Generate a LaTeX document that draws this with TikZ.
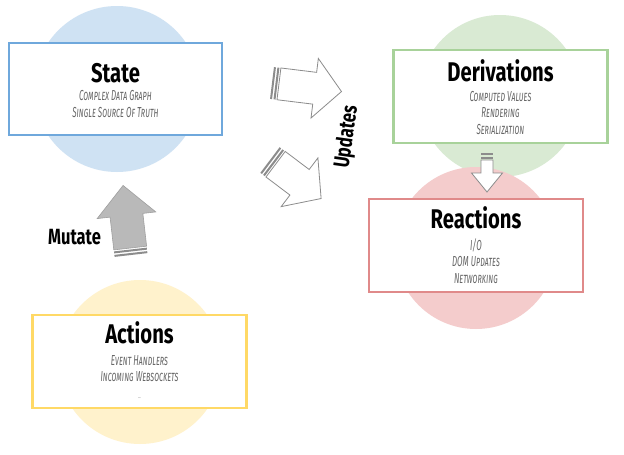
\documentclass[tikz,border=0pt]{standalone}
\usepackage{fontspec}
\usepackage{tikz}
\usetikzlibrary{
calc,
positioning
}
\newfontfamily\headfont[FakeStretch=0.75]{Fira Sans}
\newfontfamily\notefont[FakeStretch=0.55,Letters=SmallCaps]{Fira Sans}
\definecolor{stateline}{HTML}{6FA8DC}
\definecolor{stateblob}{HTML}{CFE2F3}
\definecolor{derivline}{HTML}{A8D29A}
\definecolor{derivblob}{HTML}{D9EAD3}
\definecolor{reactline}{HTML}{E08A8A}
\definecolor{reactblob}{HTML}{F4CCCC}
\definecolor{actline}{HTML}{FFD966}
\definecolor{actblob}{HTML}{FFF2CC}
\definecolor{notegray}{HTML}{666666}
\definecolor{arrowgray}{HTML}{8C8C8C}
\tikzset{
pics/blockarrow/.style n args={4}{code={
    \fill[stripe] (0,-#2) rectangle (2,#2);
    \fill[stripe] (3.5,-#2) rectangle (5.5,#2);
    \path[pic actions] (7,-#2) -- ({#1-#4},-#2) -- ({#1-#4},-#3) -- (#1,0)
        -- ({#1-#4},#3) -- ({#1-#4},#2) -- (7,#2) -- cycle;
}}
}

\begin{document}
\begin{tikzpicture}[x=1pt,y=-1pt,
    box/.style={draw, line width=2.5pt, fill=white, minimum width=214pt, minimum height=93pt, inner sep=0pt},
    blob/.style={circle, inner sep=0pt, minimum size=#1},
    title/.style={anchor=base, inner sep=0pt, font=\headfont\bfseries\fontsize{27}{30}\selectfont},
    note/.style={anchor=base, inner sep=0pt, align=center, text=notegray, font=\notefont\itshape\fontsize{14.5}{16.5}\selectfont},
    verb/.style={anchor=base, inner sep=0pt, font=\headfont\bfseries\fontsize{22}{24}\selectfont},
    stripe/.style={fill=arrowgray},
    updarrow/.style={draw=arrowgray, fill=white, line width=0.8pt},
    mutarrow/.style={draw=gray!75, fill=gray!55, line width=0.6pt}]
    \fill[white] (0,0) rectangle (624,455);
    % circles
    \node[blob=166pt, fill=stateblob] (stateB) at (117,89) {};
    \node[blob=164pt, fill=actblob] (actB) at (140,362) {};
    \node[blob=162pt, fill=derivblob] (derivB) at (500,96) {};
    \node[blob=162pt, fill=reactblob] (reactB) at (476,248) {};
    % boxes
    \node[box, draw=stateline, minimum width=213pt, minimum height=92pt] (state) at (115.5,89) {};
    \node[box, draw=derivline] (deriv) at (500.5,96.5) {};
    \node[box, draw=reactline] (react) at (476,245.5) {};
    \node[box, draw=actline] (act) at (139.5,361.5) {};
    % texts (notes sit on the baseline of their last line)
    \node[title] (stateT) at ($(state.center)+(0,-7)$) {State};
    \node[note] (stateN) at ($(state.center)+(0,28)$) {Complex Data Graph\\Single Source Of Truth};
    \node[title] (derivT) at ($(deriv.center)+(0,-15.5)$) {Derivations};
    \node[note] (derivN) at ($(deriv.center)+(0,37.5)$) {Computed Values\\Rendering\\Serialization};
    \node[title] (reactT) at ($(react.center)+(0,-17.5)$) {Reactions};
    \node[note] (reactN) at ($(react.center)+(0,37.5)$) {I/O\\DOM Updates\\Networking};
    \node[title] (actT) at ($(act.center)+(0,-18.5)$) {Actions};
    \node[note] (actN) at ($(act.center)+(0,36.5)$) {Event Handlers\\Incoming Websockets\\{\tiny ....}};
    % arrows
    \pic[mutarrow, rotate=96.5] (mut) at (131,255) {blockarrow={70}{16.5}{29.5}{30}};
    \pic[updarrow, rotate=-7] (upd1) at (272,83) {blockarrow={70}{16}{30}{27}};
    \pic[updarrow, rotate=-37] (upd2) at (270,160) {blockarrow={64}{16}{30.5}{27}};
    \pic[updarrow, rotate=-90] (flow) at (487,153) {blockarrow={39}{6}{15.5}{19}};
    \node[verb] (mutL) at (74.5,244) {Mutate};
    \node[verb, anchor=center, rotate=82] (updL) at (347,137) {Updates};
\end{tikzpicture}
\end{document}
